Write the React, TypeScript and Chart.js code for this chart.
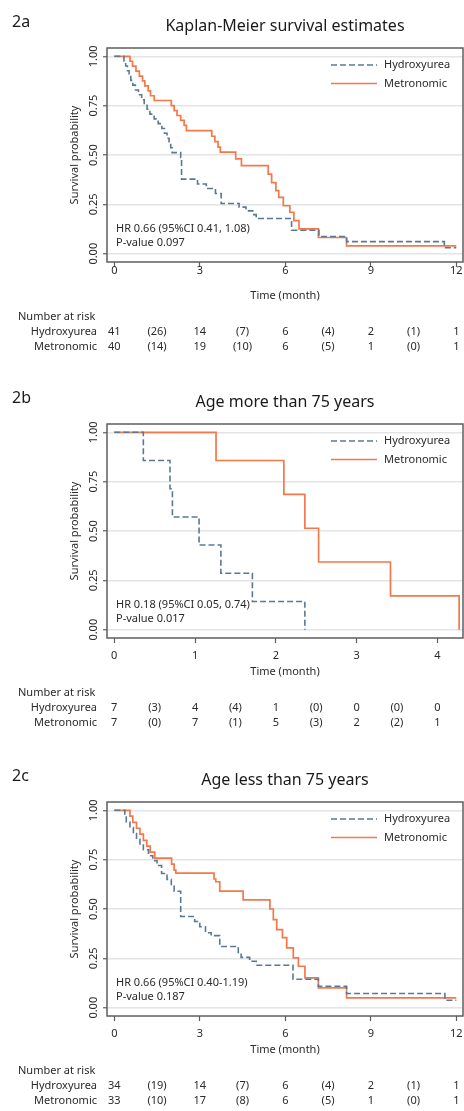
import React, { useEffect, useRef } from "react";
import { Chart, registerables } from "chart.js";

Chart.register(...registerables);

// ---------- shared labels ----------
const seriesNames = ["Hydroxyurea", "Metronomic"];
const yTicks = [0, 0.25, 0.5, 0.75, 1];
const yTickLabels = ["0.00", "0.25", "0.50", "0.75", "1.00"];
const riskRowTitle = "Number at risk";

// ---------- panel 2a ----------
const hydro2aTime = [0, 0.34, 0.4, 0.46, 0.52, 0.58, 0.65, 0.74, 0.85, 0.96, 1.05, 1.15, 1.25, 1.4, 1.54, 1.67, 1.76, 1.85, 1.92, 1.98, 2.03, 2.33, 2.36, 2.92, 3.23, 3.55, 3.75, 4.38, 4.62, 4.86, 4.98, 6.22, 7.18, 8.15, 11.58, 12];
const hydro2aSurv = [1, 0.976, 0.951, 0.927, 0.902, 0.878, 0.854, 0.829, 0.805, 0.78, 0.756, 0.732, 0.707, 0.683, 0.659, 0.634, 0.61, 0.585, 0.561, 0.537, 0.512, 0.488, 0.378, 0.353, 0.33, 0.305, 0.254, 0.236, 0.217, 0.198, 0.178, 0.119, 0.087, 0.061, 0.03, 0.03];
const metro2aTime = [0, 0.55, 0.64, 0.76, 0.88, 0.99, 1.07, 1.19, 1.27, 1.4, 2.0, 2.1, 2.2, 2.33, 2.45, 2.53, 3.42, 3.53, 3.64, 3.72, 4.26, 4.46, 5.4, 5.52, 5.67, 5.77, 5.93, 6.16, 6.3, 6.48, 7.16, 8.15, 12];
const metro2aSurv = [1, 0.975, 0.95, 0.925, 0.9, 0.875, 0.85, 0.825, 0.8, 0.776, 0.75, 0.725, 0.7, 0.675, 0.65, 0.623, 0.595, 0.568, 0.54, 0.515, 0.48, 0.446, 0.403, 0.36, 0.32, 0.285, 0.243, 0.21, 0.168, 0.126, 0.082, 0.04, 0.04];
const xTicks2a = [0, 3, 6, 9, 12];
const riskCols2a = [0, 1.5, 3, 4.5, 6, 7.5, 9, 10.5, 12];
const riskHydro2a = ["41", "(26)", "14", "(7)", "6", "(4)", "2", "(1)", "1"];
const riskMetro2a = ["40", "(14)", "19", "(10)", "6", "(5)", "1", "(0)", "1"];

// ---------- panel 2b ----------
const hydro2bTime = [0, 0.36, 0.69, 0.72, 1.05, 1.32, 1.71, 2.36];
const hydro2bSurv = [1, 0.857, 0.714, 0.571, 0.429, 0.286, 0.143, 0];
const metro2bTime = [0, 1.26, 2.1, 2.36, 2.53, 3.42, 4.27];
const metro2bSurv = [1, 0.857, 0.686, 0.514, 0.343, 0.171, 0];
const xTicks2b = [0, 1, 2, 3, 4];
const riskCols2b = [0, 0.5, 1, 1.5, 2, 2.5, 3, 3.5, 4];
const riskHydro2b = ["7", "(3)", "4", "(4)", "1", "(0)", "0", "(0)", "0"];
const riskMetro2b = ["7", "(0)", "7", "(1)", "5", "(3)", "2", "(2)", "1"];

// ---------- panel 2c ----------
const hydro2cTime = [0, 0.37, 0.42, 0.55, 0.67, 0.78, 0.9, 1.02, 1.2, 1.35, 1.5, 1.66, 1.85, 2.0, 2.1, 2.33, 2.82, 3.0, 3.2, 3.4, 3.7, 4.35, 4.45, 4.75, 4.98, 6.27, 7.16, 8.15, 11.6, 12];
const hydro2cSurv = [1, 0.971, 0.941, 0.912, 0.882, 0.853, 0.824, 0.8, 0.77, 0.745, 0.72, 0.68, 0.65, 0.62, 0.59, 0.462, 0.437, 0.41, 0.38, 0.365, 0.31, 0.28, 0.255, 0.235, 0.215, 0.144, 0.109, 0.072, 0.038, 0.038];
const metro2cTime = [0, 0.55, 0.65, 0.78, 0.9, 1.02, 1.14, 1.26, 1.42, 2.01, 2.1, 2.16, 3.5, 3.56, 3.7, 4.52, 5.46, 5.58, 5.7, 5.9, 6.05, 6.28, 6.46, 6.69, 7.16, 8.15, 12];
const metro2cSurv = [1, 0.97, 0.939, 0.909, 0.879, 0.848, 0.818, 0.788, 0.758, 0.727, 0.697, 0.682, 0.652, 0.638, 0.591, 0.546, 0.5, 0.446, 0.396, 0.355, 0.303, 0.252, 0.21, 0.151, 0.1, 0.05, 0.05];
const xTicks2c = [0, 3, 6, 9, 12];
const riskCols2c = [0, 1.5, 3, 4.5, 6, 7.5, 9, 10.5, 12];
const riskHydro2c = ["34", "(19)", "14", "(7)", "6", "(4)", "2", "(1)", "1"];
const riskMetro2c = ["33", "(10)", "17", "(8)", "6", "(5)", "1", "(0)", "1"];

// ---------- styling ----------
const FONT = '"Noto Sans", "DejaVu Sans", sans-serif';
const BLUE = "#5a7896";
const ORANGE = "#f5784a";
const AXIS = "#5e5e5e";
const GRID = "#e4e4e4";
const TXT = "#2a2a2a";
const W = 464;
const FRAME_TOP = 48;
const FRAME_BOTTOM = 262;
const FRAME_LEFT = 107;
const FRAME_RIGHT = 463;
const X_AXIS_H = 40;
const DASH = [6, 3];

type PanelProps = {
  top: number;
  height: number;
  tag: string;
  title: string;
  hydroTime: number[];
  hydroSurv: number[];
  metroTime: number[];
  metroSurv: number[];
  xMin: number;
  xMax: number;
  xTicks: number[];
  xLabelPad: number;
  riskCols: number[];
  riskHydro: string[];
  riskMetro: string[];
  hr: string;
  pval: string;
};

function KMPanel(p: PanelProps) {
  const ref = useRef<HTMLCanvasElement | null>(null);
  useEffect(() => {
    const canvas = ref.current;
    if (!canvas) return;
    const H = p.height;
    const overlay = {
      id: "kmOverlay",
      afterDraw(chart: any) {
        const ctx = chart.ctx as CanvasRenderingContext2D;
        const a = chart.chartArea;
        const xs = chart.scales.x;
        const ys = chart.scales.y;
        ctx.save();
        // frame
        ctx.strokeStyle = AXIS;
        ctx.lineWidth = 1.5;
        ctx.setLineDash([]);
        ctx.strokeRect(a.left, a.top, a.right - a.left, a.bottom - a.top);
        // y tick labels (rotated)
        ctx.fillStyle = TXT;
        ctx.font = `11px ${FONT}`;
        ctx.textAlign = "center";
        ctx.textBaseline = "middle";
        yTicks.forEach((v, i) => {
          const y = ys.getPixelForValue(v);
          ctx.save();
          ctx.translate(93.5, y);
          ctx.rotate(-Math.PI / 2);
          ctx.fillText(yTickLabels[i], 0, 0);
          ctx.restore();
        });
        // panel tag and title
        ctx.fillStyle = "#1a1a1a";
        ctx.font = `16px ${FONT}`;
        ctx.textAlign = "left";
        ctx.textBaseline = "alphabetic";
        ctx.fillText(p.tag, 12, 27);
        ctx.textAlign = "center";
        ctx.fillText(p.title, (a.left + a.right) / 2, 31);
        // legend
        const legY = [a.top + 17, a.top + 35.5];
        const legColors = [BLUE, ORANGE];
        ctx.lineWidth = 1.6;
        for (let i = 0; i < 2; i++) {
          ctx.strokeStyle = legColors[i];
          ctx.setLineDash(i === 0 ? DASH : []);
          ctx.beginPath();
          ctx.moveTo(331, legY[i]);
          ctx.lineTo(377, legY[i]);
          ctx.stroke();
        }
        ctx.setLineDash([]);
        ctx.fillStyle = TXT;
        ctx.font = `11px ${FONT}`;
        ctx.textAlign = "left";
        ctx.textBaseline = "middle";
        ctx.fillText(seriesNames[0], 384, legY[0]);
        ctx.fillText(seriesNames[1], 384, legY[1]);
        // HR annotation
        ctx.fillText(p.hr, 116, a.top + 181);
        ctx.fillText(p.pval, 116, a.top + 195);
        // number at risk table
        const rY = a.bottom + 55;
        ctx.fillText(riskRowTitle, 18, rY);
        ctx.textAlign = "right";
        ctx.fillText(seriesNames[0], 97, rY + 15);
        ctx.fillText(seriesNames[1], 97, rY + 30);
        ctx.textAlign = "center";
        p.riskCols.forEach((t, i) => {
          const x = xs.getPixelForValue(t);
          ctx.fillText(p.riskHydro[i], x, rY + 15);
          ctx.fillText(p.riskMetro[i], x, rY + 30);
        });
        ctx.restore();
      },
    };
    const mk = (t: number[], s: number[]) => t.map((x, i) => ({ x, y: s[i] }));
    const chart = new Chart(canvas, {
      type: "line",
      data: {
        datasets: [
          {
            label: seriesNames[0],
            data: mk(p.hydroTime, p.hydroSurv),
            stepped: "before",
            borderColor: BLUE,
            borderWidth: 1.6,
            borderDash: DASH,
            pointRadius: 0,
            fill: false,
          },
          {
            label: seriesNames[1],
            data: mk(p.metroTime, p.metroSurv),
            stepped: "before",
            borderColor: ORANGE,
            borderWidth: 1.7,
            pointRadius: 0,
            fill: false,
          },
        ],
      } as any,
      options: {
        animation: false,
        responsive: false,
        devicePixelRatio: 1,
        parsing: false,
        layout: {
          padding: {
            left: 0,
            top: FRAME_TOP,
            right: W - FRAME_RIGHT,
            bottom: H - FRAME_BOTTOM - X_AXIS_H,
          },
        },
        plugins: {
          legend: { display: false },
          title: { display: false },
          tooltip: { enabled: false },
        },
        scales: {
          x: {
            type: "linear",
            min: p.xMin,
            max: p.xMax,
            afterBuildTicks: (s: any) => {
              s.ticks = p.xTicks.map((v) => ({ value: v }));
            },
            afterFit: (s: any) => {
              s.height = X_AXIS_H;
              s.paddingLeft = 0;
              s.paddingRight = 0;
            },
            grid: {
              drawOnChartArea: false,
              drawTicks: true,
              tickLength: 5,
              tickColor: AXIS,
              tickWidth: 1.2,
            },
            border: { display: false },
            ticks: {
              color: TXT,
              font: { family: FONT, size: 11 },
              padding: p.xLabelPad,
              maxRotation: 0,
              minRotation: 0,
              autoSkip: false,
              callback: (v: any) => String(v),
            },
            title: {
              display: true,
              text: "Time (month)",
              color: TXT,
              font: { family: FONT, size: 11 },
              padding: { top: 0, bottom: 0 },
            },
          },
          y: {
            type: "linear",
            min: -0.042,
            max: 1.042,
            afterBuildTicks: (s: any) => {
              s.ticks = yTicks.map((v) => ({ value: v }));
            },
            afterFit: (s: any) => {
              s.width = FRAME_LEFT;
              s.paddingTop = 0;
              s.paddingBottom = 0;
            },
            grid: {
              color: GRID,
              lineWidth: 1.5,
              drawTicks: true,
              tickLength: 4,
              tickColor: AXIS,
              tickWidth: 1.2,
            },
            border: { display: false },
            ticks: { display: false },
            title: {
              display: true,
              text: "Survival probability",
              color: TXT,
              font: { family: FONT, size: 11 },
              padding: { top: 68, bottom: 0 },
            },
          },
        },
      } as any,
      plugins: [overlay],
    });
    return () => chart.destroy();
  }, []);
  return (
    <canvas
      ref={ref}
      width={W}
      height={p.height}
      style={{ position: "absolute", left: 0, top: p.top, width: W, height: p.height }}
    />
  );
}

export default function App() {
  return (
    <div style={{ position: "absolute", left: 0, top: 0, width: W, height: 1111, background: "#fff", overflow: "hidden" }}>
      <KMPanel
        top={0}
        height={376}
        tag="2a"
        title="Kaplan-Meier survival estimates"
        hydroTime={hydro2aTime}
        hydroSurv={hydro2aSurv}
        metroTime={metro2aTime}
        metroSurv={metro2aSurv}
        xMin={-0.256}
        xMax={12.235}
        xTicks={xTicks2a}
        xLabelPad={-3}
        riskCols={riskCols2a}
        riskHydro={riskHydro2a}
        riskMetro={riskMetro2a}
        hr="HR 0.66 (95%CI 0.41, 1.08)"
        pval="P-value 0.097"
      />
      <KMPanel
        top={376}
        height={378}
        tag="2b"
        title="Age more than 75 years"
        hydroTime={hydro2bTime}
        hydroSurv={hydro2bSurv}
        metroTime={metro2bTime}
        metroSurv={metro2bSurv}
        xMin={-0.09}
        xMax={4.318}
        xTicks={xTicks2b}
        xLabelPad={6}
        riskCols={riskCols2b}
        riskHydro={riskHydro2b}
        riskMetro={riskMetro2b}
        hr="HR 0.18 (95%CI 0.05, 0.74)"
        pval="P-value 0.017"
      />
      <KMPanel
        top={754}
        height={357}
        tag="2c"
        title="Age less than 75 years"
        hydroTime={hydro2cTime}
        hydroSurv={hydro2cSurv}
        metroTime={metro2cTime}
        metroSurv={metro2cSurv}
        xMin={-0.256}
        xMax={12.235}
        xTicks={xTicks2c}
        xLabelPad={6}
        riskCols={riskCols2c}
        riskHydro={riskHydro2c}
        riskMetro={riskMetro2c}
        hr="HR 0.66 (95%CI 0.40-1.19)"
        pval="P-value 0.187"
      />
    </div>
  );
}
